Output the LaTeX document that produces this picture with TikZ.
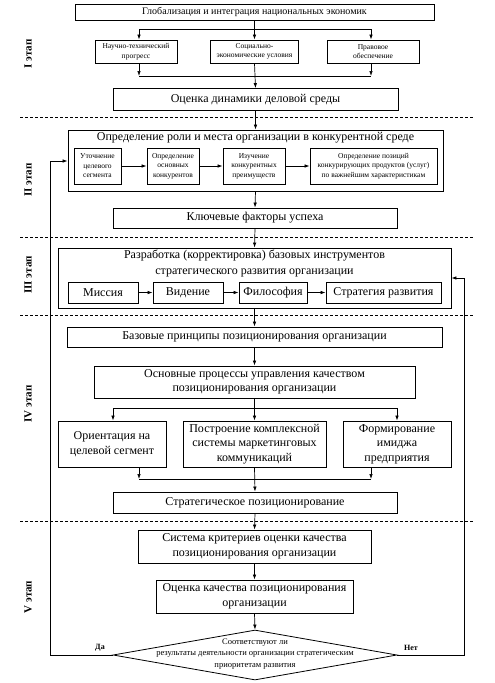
\documentclass[tikz,border=0pt]{standalone}
\usepackage{fontspec}
\setmainfont{Liberation Serif}
\usetikzlibrary{arrows.meta,shapes.geometric,calc}
\begin{document}
\begin{tikzpicture}[x=1pt,y=-1pt,
 box/.style={draw,line width=0.8pt,inner sep=1pt,align=center,font=\fontsize{12}{14.5}\selectfont},
 sbox/.style={box,font=\fontsize{7.5}{9.5}\selectfont},
 mbox/.style={box,font=\fontsize{10}{12}\selectfont},
 txt/.style={inner sep=0pt,align=center,font=\fontsize{12}{16}\selectfont},
 arr/.style={-{Latex[length=5pt,width=3.5pt]},line width=0.7pt},
 ln/.style={line width=0.7pt},
 sep/.style={dash pattern=on 3pt off 2pt, line width=0.7pt},
 stage/.style={rotate=90,inner sep=0pt,font=\bfseries\fontsize{11}{13}\selectfont}]
\useasboundingbox (0,0) rectangle (495,683);

% separators
\foreach \yy in {117,237,315,521} \draw[sep] (20,\yy) -- (473,\yy);

% stage labels
\node[stage] (s1) at (28,54) {I этап};
\node[stage] (s2) at (28,180) {II этап};
\node[stage] (s3) at (28,275) {III этап};
\node[stage] (s4) at (28,404) {IV этап};
\node[stage] (s5) at (28,597) {V этап};

% Stage I
\node[mbox,minimum width=359pt,minimum height=16pt] (glob) at (254.5,12) {Глобализация и интеграция национальных экономик};
\node[sbox,minimum width=82pt,minimum height=23pt] (nt) at (136,51.5) {Научно-технический\\прогресс};
\node[sbox,minimum width=88pt,minimum height=23pt] (se) at (254.5,51.5) {Социально-\\экономические условия};
\node[sbox,minimum width=92pt,minimum height=23pt] (pr) at (373,51.5) {Правовое\\обеспечение};
\node[box,minimum width=285pt,minimum height=22pt] (ocd) at (255.5,99.5) {Оценка динамики деловой среды};
\coordinate (b1L) at (139,29); \coordinate (b1C) at (254.5,29); \coordinate (b1R) at (371,29);
\draw[ln] (glob.south) -- (b1C);
\draw[ln] (b1L) -- (b1R);
\draw[arr] (b1L) -- (b1L |- nt.north);
\draw[arr] (b1C) -- (se.north);
\draw[arr] (b1R) -- (b1R |- pr.north);
\coordinate (m1L) at (139,76); \coordinate (m1R) at (371,76);
\draw[arr] (m1L |- nt.south) -- (m1L);
\draw[arr] (m1R |- pr.south) -- (m1R);
\draw[ln] (m1L) -- (m1R);
\draw[arr] (se.south) -- (ocd.north);

% Stage II
\node[draw,line width=0.8pt,minimum width=375pt,minimum height=61pt,inner sep=0pt] (roles) at (255.5,160.5) {};
\node[txt] (rolesT) at (255.5,138) {Определение роли и места организации в конкурентной среде};
\node[sbox,minimum width=47pt,minimum height=36pt] (in1) at (97.5,166) {Уточнение\\целевого\\сегмента};
\node[sbox,minimum width=52pt,minimum height=36pt] (in2) at (173,166) {Определение\\основных\\конкурентов};
\node[sbox,minimum width=62pt,minimum height=36pt] (in3) at (254,166) {Изучение\\конкурентных\\преимуществ};
\node[sbox,minimum width=127pt,minimum height=36pt] (in4) at (373.5,166) {Определение позиций\\конкурирующих продуктов (услуг)\\по важнейшим характеристикам};
\draw[arr] (in1) -- (in2);
\draw[arr] (in2) -- (in3);
\draw[arr] (in3) -- (in4);
\node[box,minimum width=284pt,minimum height=20pt] (kfu) at (255,218) {Ключевые факторы успеха};
\draw[arr] (ocd.south) -- (roles.north);
\draw[arr] (roles.south) -- (kfu.north);

% Stage III
\node[draw,line width=0.8pt,minimum width=393pt,minimum height=60pt,inner sep=0pt] (tools) at (254.5,278) {};
\node[txt] (toolsT) at (254.5,263) {Разработка (корректировка) базовых инструментов\\стратегического развития организации};
\node[box,minimum width=70pt,minimum height=21pt] (mis) at (103,292.5) {Миссия};
\node[box,minimum width=70pt,minimum height=21pt] (vid) at (188,292.5) {Видение};
\node[box,minimum width=68pt,minimum height=21pt] (fil) at (273,292.5) {Философия};
\node[box,minimum width=115pt,minimum height=21pt] (str) at (383.5,292.5) {Стратегия развития};
\draw[arr] (mis) -- (vid);
\draw[arr] (vid) -- (fil);
\draw[arr] (fil) -- (str);
\draw[arr] (kfu.south) -- (tools.north);

% Stage IV
\node[box,minimum width=375pt,minimum height=20pt] (bp) at (254.5,337) {Базовые принципы позиционирования организации};
\node[box,minimum width=321pt,minimum height=32pt] (op) at (254.5,382) {Основные процессы управления качеством\\позиционирования организации};
\node[box,minimum width=108pt,minimum height=46pt] (pa) at (112,444) {Ориентация на\\целевой сегмент};
\node[box,minimum width=143pt,minimum height=46pt] (pb) at (254.5,444) {Построение комплексной\\системы маркетинговых\\коммуникаций};
\node[box,minimum width=108pt,minimum height=46pt] (pc) at (397,444) {Формирование\\имиджа\\предприятия};
\node[box,minimum width=284pt,minimum height=21pt] (sp) at (255,502.5) {Стратегическое позиционирование};
\draw[arr] (tools.south) -- (bp.north);
\draw[arr] (bp.south) -- (op.north);
\coordinate (b2L) at (113,408); \coordinate (b2C) at (254.5,408); \coordinate (b2R) at (397,408);
\draw[ln] (op.south) -- (b2C);
\draw[ln] (b2L) -- (b2R);
\draw[arr] (b2L) -- (b2L |- pa.north);
\draw[arr] (b2C) -- (pb.north);
\draw[arr] (b2R) -- (b2R |- pc.north);
\coordinate (m2L) at (139,479); \coordinate (m2R) at (371,479);
\draw[arr] (m2L |- pa.south) -- (m2L);
\draw[arr] (m2R |- pc.south) -- (m2R);
\draw[ln] (m2L) -- (m2R);
\draw[arr] (pb.south) -- (sp.north);

% Stage V
\node[box,minimum width=233pt,minimum height=33pt] (sk) at (254.5,546.5) {Система критериев оценки качества\\позиционирования организации};
\node[box,minimum width=197pt,minimum height=33pt] (oq) at (254.5,596.5) {Оценка качества позиционирования\\организации};
\node[draw,line width=0.8pt,diamond,aspect=5.68,minimum width=284pt,minimum height=50pt,inner sep=0pt] (dec) at (255,655) {};
\node[inner sep=0pt,align=center,font=\fontsize{8.5}{11.5}\selectfont] (decT) at (255,654) {Соответствуют ли\\результаты деятельности организации стратегическим\\приоритетам развития};
\draw[arr] (sp.south) -- (sk.north);
\draw[arr] (sk.south) -- (oq.north);
\draw[arr] (oq.south) -- (dec.north);

% feedback
\coordinate (fl1) at (50,655); \coordinate (fl2) at (50,161);
\coordinate (fr1) at (464,655); \coordinate (fr2) at (464,278);
\draw[arr] (dec.west) -- (fl1) -- (fl2) -- (roles.west |- fl2);
\draw[arr] (dec.east) -- (fr1) -- (fr2) -- (tools.east |- fr2);
\node[font=\bfseries\fontsize{8}{9}\selectfont,inner sep=0pt] (yes) at (100,648) {Да};
\node[font=\bfseries\fontsize{8}{9}\selectfont,inner sep=0pt] (no) at (411,648) {Нет};
\end{tikzpicture}
\end{document}
